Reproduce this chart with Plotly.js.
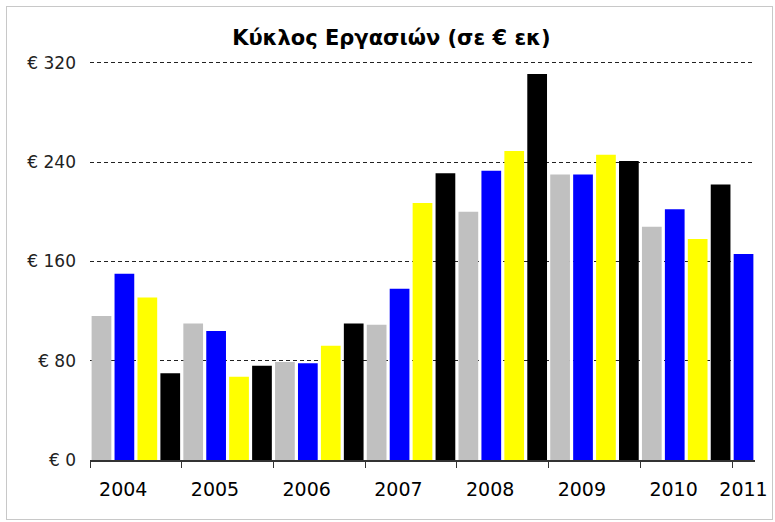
<!DOCTYPE html>
<html>
<head>
<meta charset="utf-8">
<script src="https://cdn.plot.ly/plotly-3.0.1.min.js"></script>
<style>
  body { margin: 0; background: #fff; }
  #chart { width: 775px; height: 522px; }
  #frame { position: absolute; left: 6px; top: 6px; width: 765px; height: 512px;
           border: 1px solid #c8c8c8; pointer-events: none; }
</style>
</head>
<body>
<div id="chart"></div>
<div id="frame"></div>
<script>
// quarterly turnover, million euro
const years = ['2004', '2005', '2006', '2007', '2008', '2009', '2010', '2011'];
const turnover = [
    116, 150, 131, 70,
    110, 104, 67, 76,
    79, 78, 92, 110,
    109, 138, 207, 231,
    200, 233, 249, 311,
    230, 230, 246, 241,
    188, 202, 178, 222,
    166
];
const yTicks = [0, 80, 160, 240, 320];

const palette = ['#c0c0c0', '#0000ff', '#ffff00', '#000000'];
const nBars = turnover.length;
const xs = turnover.map((v, i) => i);
// the single 2011 bar is drawn blue in the original
const barColors = turnover.map((v, i) => i < 28 ? palette[i % 4] : palette[1]);

const yearTicks = years.map((y, i) => i * 4 - 0.5);
const labelPos = years.map((y, i) => Math.min(i * 4 + 0.95, nBars - 1));

const fontFamily = 'DejaVu Sans, Verdana, sans-serif';

Plotly.newPlot('chart', [{
    type: 'bar',
    x: xs,
    y: turnover,
    marker: { color: barColors, line: { width: 0 } },
    hoverinfo: 'y',
}, {
    // invisible trace carrying the year labels
    type: 'scatter',
    x: labelPos,
    y: labelPos.map(() => 0),
    xaxis: 'x2',
    mode: 'markers',
    marker: { opacity: 0 },
    hoverinfo: 'skip',
}], {
    width: 775,
    height: 522,
    margin: { l: 90, r: 20, t: 61, b: 62 },
    paper_bgcolor: '#ffffff',
    plot_bgcolor: '#ffffff',
    showlegend: false,
    bargap: 0.14,
    title: {
        text: '<b>Κύκλος Εργασιών (σε € εκ)</b>',
        x: 0.505,
        xanchor: 'center',
        y: 0.927,
        yanchor: 'middle',
        font: { family: fontFamily, size: 21, color: '#000' },
    },
    xaxis: {
        range: [-0.5, nBars - 0.5],
        tickmode: 'array',
        tickvals: yearTicks,
        showticklabels: false,
        ticks: 'outside',
        ticklen: 6,
        tickcolor: '#333',
        showgrid: false,
        zeroline: false,
        showline: true,
        linecolor: '#333',
        linewidth: 1.5,
        fixedrange: true,
    },
    xaxis2: {
        overlaying: 'x',
        matches: 'x',
        side: 'bottom',
        tickmode: 'array',
        tickvals: labelPos,
        ticktext: years,
        ticks: '',
        showgrid: false,
        zeroline: false,
        showline: false,
        ticklabelstandoff: 16,
        tickfont: { family: fontFamily, size: 19, color: '#000' },
    },
    yaxis: {
        range: [0, 321.5],
        tickmode: 'array',
        tickvals: yTicks,
        ticktext: yTicks.map(v => '€ ' + v),
        tickfont: { family: fontFamily, size: 17, color: '#222' },
        ticks: '',
        ticklabelstandoff: 13,
        showgrid: true,
        gridcolor: '#222',
        gridwidth: 1,
        griddash: '4px,3px',
        zeroline: false,
        showline: false,
        fixedrange: true,
    },
}, { displayModeBar: false, staticPlot: true });
</script>
</body>
</html>
